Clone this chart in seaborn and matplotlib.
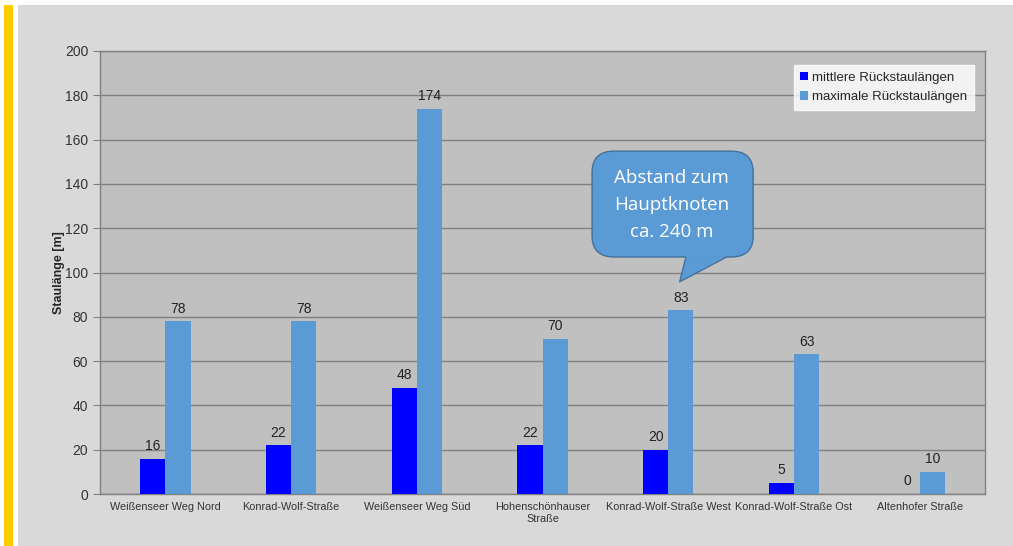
import matplotlib
matplotlib.use('Agg')
import matplotlib.pyplot as plt
import seaborn as sns
import pandas as pd
from matplotlib.patches import FancyBboxPatch, Polygon, Rectangle

# data
locations = ['Weißenseer Weg Nord', 'Konrad-Wolf-Straße', 'Weißenseer Weg Süd',
             'Hohenschönhauser\nStraße', 'Konrad-Wolf-Straße West',
             'Konrad-Wolf-Straße Ost', 'Altenhofer Straße']
mean_len = [16, 22, 48, 22, 20, 5, 0]
max_len = [78, 78, 174, 70, 83, 63, 10]
series = ['mittlere Rückstaulängen', 'maximale Rückstaulängen']
colors = ['#0000ff', '#5b9bd5']

df = pd.DataFrame({
    'Ort': locations * 2,
    'Wert': mean_len + max_len,
    'Serie': [series[0]] * len(locations) + [series[1]] * len(locations),
})

sns.set_style('white')
plt.rcParams['font.family'] = ['Liberation Sans', 'DejaVu Sans']

fig = plt.figure(figsize=(10.13, 5.46), dpi=100, facecolor='white')
# page decorations: gray card and yellow stripe
fig.patches.append(Rectangle((18 / 1013, 0), 1, 541 / 546, transform=fig.transFigure,
                             facecolor='#d9d9d9', edgecolor='none', zorder=-2))
fig.patches.append(Rectangle((4 / 1013, 0), 9 / 1013, 541 / 546, transform=fig.transFigure,
                             facecolor='#ffcc00', edgecolor='none', zorder=-2))

ax = fig.add_axes([0.0987, 0.0952, 0.8737, 0.8114])
ax.set_facecolor('#c0c0c0')

sns.barplot(data=df, x='Ort', y='Wert', hue='Serie', palette=colors, width=0.4,
            gap=0, saturation=1, ax=ax, zorder=3, edgecolor='none')
for cont in ax.containers:
    ax.bar_label(cont, fmt='%d', padding=4, fontsize=10, color='#222222')

ax.set_ylim(0, 200)
ax.set_yticks(range(0, 201, 20))
ax.yaxis.grid(True, color='#808080', linewidth=1, zorder=0)
ax.set_axisbelow(True)
ax.tick_params(axis='y', labelsize=10, colors='#333333', length=5, direction='out', left=True, color='#808080')
ax.tick_params(axis='x', labelsize=7.8, colors='#333333', length=0, pad=6)
ax.set_xlabel('')
ax.set_ylabel('Staulänge [m]', fontsize=9, fontweight='bold', labelpad=0)
for s in ax.spines.values():
    s.set_color('#808080')
    s.set_linewidth(1)

leg = ax.legend(loc='upper right', bbox_to_anchor=(0.9876, 0.968), borderaxespad=0, fontsize=9.5,
                frameon=True, fancybox=False, handlelength=0.6, handleheight=0.6,
                handletextpad=0.3, borderpad=0.5, labelspacing=0.55)
leg.get_frame().set_facecolor('white')
leg.get_frame().set_edgecolor('white')

# callout
box = FancyBboxPatch((0.556, 0.535), 0.182, 0.239, boxstyle='round,pad=0,rounding_size=0.025',
                     transform=ax.transAxes, facecolor='#5b9bd5', edgecolor='#41719c',
                     linewidth=1, zorder=5, mutation_aspect=1.9)
ax.add_patch(box)
tri = Polygon([(0.662, 0.537), (0.655, 0.479), (0.708, 0.537)], closed=True,
              transform=ax.transAxes, facecolor='#5b9bd5', edgecolor='none', zorder=6)
ax.add_patch(tri)
ax.plot([0.662, 0.655, 0.708], [0.535, 0.479, 0.535], transform=ax.transAxes,
        color='#41719c', linewidth=1, zorder=6)
ax.text(0.646, 0.652, 'Abstand zum\nHauptknoten\nca. 240 m', transform=ax.transAxes,
        ha='center', va='center', color='white', fontsize=13.5, family=['Open Sans', 'DejaVu Sans'],
        linespacing=1.65, zorder=7)

fig.savefig('out.png', dpi=100, facecolor=fig.get_facecolor())
